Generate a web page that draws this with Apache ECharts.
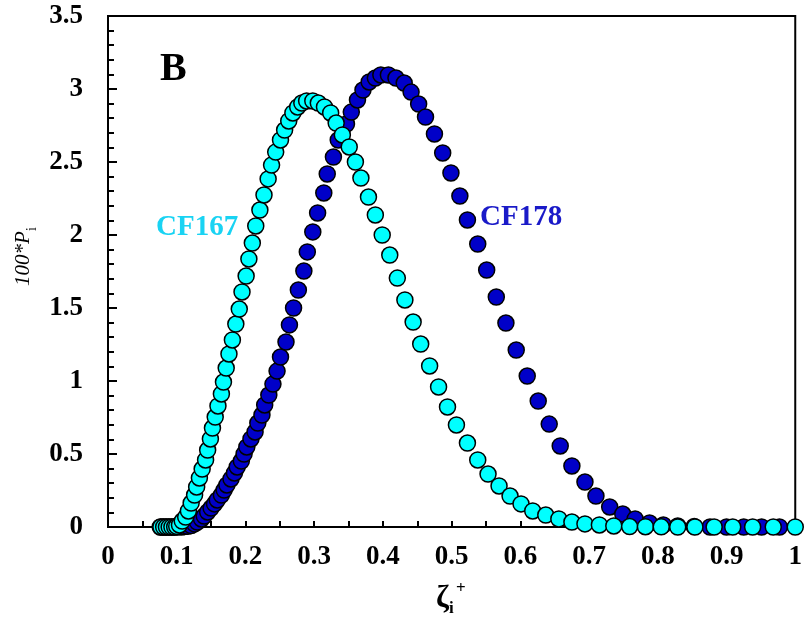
<!DOCTYPE html>
<html>
<head>
<meta charset="utf-8">
<script src="https://cdn.jsdelivr.net/npm/echarts@6/dist/echarts.min.js"></script>
<style>
html,body{margin:0;padding:0;background:#fff;}
#chart{width:805px;height:630px;}
</style>
</head>
<body>
<div id="chart"></div>
<script>
// ---- data ----
const cf167X = [0.077,0.081,0.085,0.089,0.093,0.097,0.100,0.104,0.108,0.113,0.117,0.121,0.126,0.129,0.133,0.137,0.142,0.145,0.149,0.152,0.156,0.160,0.165,0.168,0.172,0.176,0.181,0.186,0.191,0.195,0.201,0.205,0.210,0.215,0.221,0.227,0.233,0.238,0.244,0.251,0.257,0.263,0.269,0.276,0.282,0.289,0.298,0.306,0.315,0.324,0.332,0.341,0.351,0.360,0.368,0.379,0.389,0.399,0.410,0.421,0.432,0.444,0.455,0.468,0.481,0.494,0.507,0.523,0.538,0.553,0.569,0.585,0.601,0.618,0.637,0.656,0.675,0.694,0.715,0.736,0.759,0.782,0.805,0.829,0.854,0.882,0.909,0.938,0.968,1.0];
const cf167Y = [0,0,0,0,0,0,0.004,0.014,0.041,0.068,0.11,0.164,0.219,0.274,0.336,0.397,0.459,0.527,0.603,0.678,0.753,0.829,0.911,0.993,1.089,1.185,1.281,1.39,1.493,1.61,1.719,1.836,1.945,2.062,2.171,2.274,2.384,2.479,2.568,2.651,2.719,2.781,2.836,2.877,2.904,2.918,2.918,2.904,2.877,2.836,2.767,2.685,2.603,2.5,2.39,2.26,2.137,2.0,1.863,1.705,1.555,1.404,1.253,1.103,0.959,0.822,0.699,0.575,0.459,0.363,0.281,0.212,0.158,0.11,0.082,0.055,0.034,0.021,0.014,0.007,0.003,0.002,0.001,0,0,0,0,0,0,0];
const cf178X = [0.076,0.080,0.084,0.088,0.092,0.096,0.101,0.107,0.111,0.116,0.121,0.126,0.130,0.136,0.140,0.145,0.150,0.155,0.159,0.165,0.169,0.173,0.179,0.184,0.188,0.194,0.198,0.202,0.208,0.214,0.218,0.224,0.228,0.234,0.240,0.246,0.251,0.259,0.264,0.270,0.277,0.285,0.290,0.298,0.305,0.314,0.319,0.328,0.335,0.347,0.354,0.363,0.371,0.380,0.389,0.397,0.408,0.419,0.431,0.441,0.452,0.462,0.475,0.487,0.499,0.512,0.523,0.538,0.551,0.565,0.579,0.594,0.610,0.626,0.642,0.658,0.675,0.694,0.710,0.730,0.749,0.767,0.788,0.808,0.829,0.853,0.876,0.900,0.925,0.951,0.977];
const cf178Y = [0,0,0,0,0,0,0,0,0.003,0.005,0.01,0.021,0.034,0.055,0.075,0.103,0.13,0.158,0.185,0.219,0.253,0.288,0.329,0.37,0.411,0.452,0.5,0.548,0.603,0.651,0.712,0.767,0.836,0.904,0.979,1.068,1.164,1.267,1.384,1.5,1.623,1.753,1.884,2.021,2.151,2.288,2.418,2.534,2.651,2.76,2.842,2.925,2.993,3.048,3.075,3.096,3.096,3.075,3.041,2.979,2.897,2.808,2.692,2.562,2.425,2.267,2.103,1.938,1.76,1.575,1.397,1.212,1.034,0.863,0.705,0.555,0.418,0.308,0.212,0.137,0.089,0.055,0.027,0.014,0.007,0.003,0,0,0,0,0];
const seriesNames = ['CF178', 'CF167'];

const serif = '"Liberation Serif", "Times New Roman", serif';
const pair = (xs, ys) => xs.map((x, i) => [x, ys[i]]);

const chart = echarts.init(document.getElementById('chart'), null, {renderer: 'canvas'});
chart.setOption({
  animation: false,
  backgroundColor: '#fff',
  grid: {left: 108, right: 5, top: 16, bottom: 103, show: true, borderColor: '#000', borderWidth: 2},
  xAxis: {
    type: 'value', min: 0, max: 1, interval: 0.1,
    axisLine: {lineStyle: {color: '#000', width: 2}},
    axisTick: {inside: true, length: 6, lineStyle: {color: '#000', width: 2}},
    minorTick: {show: true, splitNumber: 2, length: 6, lineStyle: {color: '#000', width: 2}},
    splitLine: {show: false},
    axisLabel: {color: '#000', fontFamily: serif, fontWeight: 'bold', fontSize: 27, margin: 17,
      formatter: v => String(Math.round(v * 10) / 10)}
  },
  yAxis: {
    type: 'value', min: 0, max: 3.5, interval: 0.5,
    axisLine: {lineStyle: {color: '#000', width: 2}},
    axisTick: {inside: true, length: 9, lineStyle: {color: '#000', width: 2}},
    minorTick: {show: true, splitNumber: 5, length: 6, lineStyle: {color: '#000', width: 2}},
    splitLine: {show: false},
    axisLabel: {color: '#000', fontFamily: serif, fontWeight: 'bold', fontSize: 27, margin: 25,
      formatter: v => String(Math.round(v * 10) / 10)}
  },
  series: [
    {name: seriesNames[0], type: 'scatter', data: pair(cf178X, cf178Y), symbol: 'circle', symbolSize: 16, clip: false,
      itemStyle: {color: '#0000C8', borderColor: '#000', borderWidth: 1.5, opacity: 1}},
    {name: seriesNames[1], type: 'scatter', data: pair(cf167X, cf167Y), symbol: 'circle', symbolSize: 16, clip: false,
      itemStyle: {color: '#00FFFF', borderColor: '#000', borderWidth: 1.5, opacity: 1}}
  ],
  graphic: [
    {type: 'text', x: 160, y: 50, style: {text: 'B', font: 'bold 40px ' + serif, fill: '#000'}},
    {type: 'text', x: 156, y: 213, style: {text: 'CF167', font: 'bold 29px ' + serif, fill: '#19d3f3'}},
    {type: 'text', x: 480, y: 203, style: {text: 'CF178', font: 'bold 29px ' + serif, fill: '#1a1ac8'}},
    // y-axis title 100*P_i (rotated, reading upward)
    {type: 'text', x: 13, y: 286, rotation: Math.PI / 2,
      style: {text: '100*P', font: 'italic 21px ' + serif, fill: '#000', align: 'left', verticalAlign: 'top'}},
    {type: 'text', x: 25, y: 231, rotation: Math.PI / 2,
      style: {text: 'i', font: '14px ' + serif, fill: '#000', align: 'left', verticalAlign: 'top'}},
    // x-axis title zeta_i^+
    {type: 'text', x: 436, y: 583, style: {text: 'ζ', font: 'bold 31px ' + serif, fill: '#000'}},
    {type: 'text', x: 449, y: 600, style: {text: 'i', font: 'bold 17px ' + serif, fill: '#000'}},
    {type: 'text', x: 456, y: 580, style: {text: '+', font: 'bold 17px ' + serif, fill: '#000'}}
  ]
});
</script>
</body>
</html>
